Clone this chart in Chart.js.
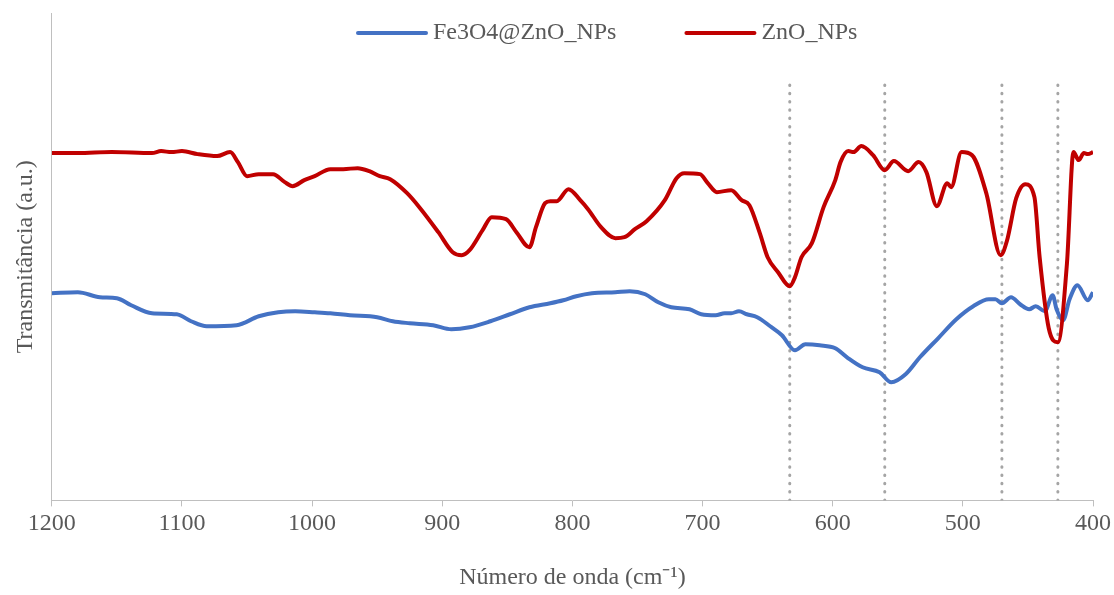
<!DOCTYPE html>
<html>
<head>
<meta charset="utf-8">
<script src="https://cdn.jsdelivr.net/npm/chart.js@4.4.0/dist/chart.umd.min.js"></script>
<style>
  html, body { margin: 0; padding: 0; background: #fff; }
  #wrap { width: 1114px; height: 595px; }
</style>
</head>
<body>
<div id="wrap"><canvas id="chart" width="1114" height="595"></canvas></div>
<script>
// FTIR spectra, transmittance in arbitrary units
const seriesNames = ['Fe3O4@ZnO_NPs', 'ZnO_NPs'];
const seriesColors = ['#4472C4', '#C00000'];

const feWave = [1200,1180,1163,1150,1139,1123,1104,1093,1081,1058,1041,1026,1013,998,986,971,950,938,925,907,
  893,879,863,848,833,817,807,797,785,767,756,744,734,724,710,701,690,683,678,672,
  666,658,648,639,629,621,610,598,589,577,564,555,544,533,519,505,492,480,475,470,
  463,456,449,444,437,431,428,423,418,412,404,400];
const feT = [207,208,203,202,195,187,186,179,174,175,184,188,189,188,187,185,183,179,177,175,
  171,173,179,186,193,197,200,204,207,208,209,206,198,193,191,186,185,187,187,189,
  186,183,174,165,150,156,155,152,143,133,128,118,126,143,162,181,194,201,201,197,
  203,196,191,194,189,205,191,180,201,215,200,208];

const znoWave = [1200,1180,1154,1123,1116,1108,1100,1088,1073,1063,1057,1050,1041,1030,1021,1015,1006,998,986,976,
  965,956,948,940,927,917,903,892,885,879,869,862,851,843,833,828,821,817,812,803,
  794,788,778,767,760,752,743,729,720,714,702,696,689,678,670,664,656,650,642,633,
  629,624,616,607,598,594,588,584,578,569,560,553,542,534,528,520,512,509,501,493,
  482,471,466,459,452,445,441,434,427,420,415,411,407,404,400];
const znoT = [347,347,348,347,349,348,349,346,344,348,338,324,326,326,318,314,320,324,331,331,
  332,329,324,321,307,292,268,248,245,250,270,283,281,268,253,273,297,299,299,311,
  300,291,273,262,263,271,279,300,322,327,326,317,308,310,300,295,267,243,228,214,
  223,243,257,293,320,338,349,348,354,345,330,339,329,338,328,294,317,313,348,345,
  307,245,260,302,316,303,243,172,158,237,348,340,347,346,348];

// band positions marked with dotted lines
const markerWave = [633, 560, 470, 427];
const markerTop = 415;

const xTicks = [1200, 1100, 1000, 900, 800, 700, 600, 500, 400];

const toPoints = (xs, ys) => xs.map((x, i) => ({ x: x, y: ys[i] }));

const legendItems = {
  id: 'legendItems',
  afterDraw(chart) {
    const ctx = chart.ctx;
    let x = 358;
    const y = 33;
    ctx.save();
    ctx.font = '24px "Liberation Serif"';
    ctx.textBaseline = 'middle';
    seriesNames.forEach((name, i) => {
      ctx.strokeStyle = seriesColors[i];
      ctx.lineWidth = 4;
      ctx.lineCap = 'round';
      ctx.beginPath();
      ctx.moveTo(x, y);
      ctx.lineTo(x + 68, y);
      ctx.stroke();
      ctx.fillStyle = '#595959';
      ctx.fillText(name, x + 75, y);
      x += 75 + ctx.measureText(name).width + 70;
    });
    ctx.restore();
  }
};

const datasets = [
  {
    label: seriesNames[0],
    data: toPoints(feWave, feT),
    borderColor: seriesColors[0],
    borderWidth: 4,
    pointRadius: 0,
    cubicInterpolationMode: 'monotone',
    order: 1
  },
  {
    label: seriesNames[1],
    data: toPoints(znoWave, znoT),
    borderColor: seriesColors[1],
    borderWidth: 4,
    pointRadius: 0,
    cubicInterpolationMode: 'monotone',
    order: 0
  }
];

markerWave.forEach(w => {
  datasets.push({
    label: 'marker ' + w,
    data: [{ x: w, y: 0 }, { x: w, y: markerTop }],
    borderColor: '#A5A5A5',
    borderWidth: 3,
    borderDash: [0.5, 7.8],
    borderCapStyle: 'round',
    pointRadius: 0,
    order: 2
  });
});

const axisFont = { family: '"Liberation Serif"', size: 24, lineHeight: 1.2 };

new Chart(document.getElementById('chart'), {
  type: 'line',
  data: { datasets: datasets },
  options: {
    responsive: false,
    animation: false,
    devicePixelRatio: 1,
    layout: { padding: { left: 9, right: 17, top: 13, bottom: 0 } },
    plugins: {
      legend: { display: false },
      tooltip: { enabled: false }
    },
    scales: {
      x: {
        type: 'linear',
        reverse: true,
        min: 400,
        max: 1200,
        afterBuildTicks: axis => { axis.ticks = xTicks.map(v => ({ value: v })); },
        ticks: { color: '#595959', font: axisFont, padding: 3, maxRotation: 0, callback: v => String(v) },
        grid: { drawOnChartArea: false, drawTicks: true, tickLength: 6, color: '#BFBFBF' },
        border: { color: '#BFBFBF', width: 1 },
        title: {
          display: true,
          text: 'Número de onda (cm⁻¹)',
          color: '#595959',
          font: axisFont,
          padding: { top: 22, bottom: 3 }
        }
      },
      y: {
        min: 0,
        max: 487,
        ticks: { display: false },
        grid: { display: false, drawTicks: false },
        border: { color: '#BFBFBF', width: 1 },
        title: {
          display: true,
          text: 'Transmitância (a.u.)',
          color: '#595959',
          font: axisFont,
          padding: { top: 2, bottom: 12 }
        }
      }
    }
  },
  plugins: [legendItems]
});
</script>
</body>
</html>
